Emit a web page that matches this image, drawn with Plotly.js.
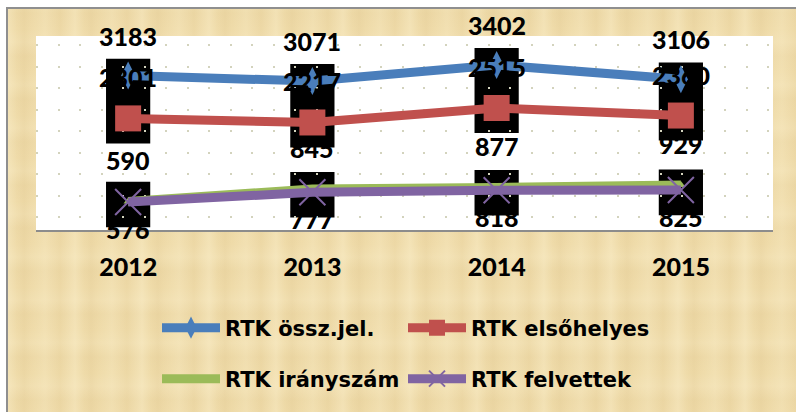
<!DOCTYPE html>
<html>
<head>
<meta charset="utf-8">
<script src="https://cdn.plot.ly/plotly-3.0.1.min.js"></script>
<style>
  html, body { margin: 0; padding: 0; background: #ffffff; width: 796px; height: 412px; overflow: hidden; }
  #frame {
    position: absolute; left: 6px; top: 7px; width: 800px; height: 420px;
    border-left: 2px solid #8f8f8f; border-top: 2px solid #8f8f8f;
    background-color: #efdba9;
    background-image:
      repeating-linear-gradient(90deg, rgba(255,246,215,0.30) 0px, rgba(255,246,215,0.0) 9px, rgba(205,175,115,0.10) 16px, rgba(255,246,215,0.0) 23px, rgba(255,246,215,0.20) 37px, rgba(210,180,120,0.08) 52px, rgba(255,246,215,0.30) 67px),
      repeating-linear-gradient(0deg, rgba(255,248,222,0.14) 0px, rgba(255,248,222,0.0) 13px, rgba(200,170,110,0.06) 29px, rgba(255,248,222,0.14) 43px);
  }
  #chart { position: absolute; left: 0; top: 0; width: 796px; height: 412px; }
</style>
</head>
<body>
<div id="frame"></div>
<div id="chart"></div>
<script>
// ---- data ----
var years = ['2012', '2013', '2014', '2015'];
var osszJel = [3183, 3071, 3402, 3106];      // RTK össz.jel.
var elsohelyes = [2301, 2217, 2515, 2360];   // RTK elsőhelyes
var iranyszam = [590, 845, 877, 929];        // RTK irányszám
var felvettek = [576, 777, 818, 825];        // RTK felvettek
var seriesNames = ['RTK össz.jel.', 'RTK elsőhelyes', 'RTK irányszám', 'RTK felvettek'];

// ---- styles ----
var cBlue = '#4a7ebb', cRed = '#c0504d', cGreen = '#9bbb59', cPurple = '#8064a2';
function labelFont() { return { family: 'Lato, "DejaVu Sans", sans-serif', size: 25, color: '#000000', weight: 900 }; }
function legendFont() { return { family: '"DejaVu Sans", sans-serif', size: 21, color: '#000000', weight: 'bold' }; }

var traces = [
  { x: years, y: osszJel, name: seriesNames[0], type: 'scatter', mode: 'lines+markers', legend: 'legend',
    line: { color: cBlue, width: 9 }, marker: { symbol: 'diamond-tall', size: 20, color: cBlue } },
  { x: years, y: elsohelyes, name: seriesNames[1], type: 'scatter', mode: 'lines+markers', legend: 'legend2',
    line: { color: cRed, width: 9 }, marker: { symbol: 'square', size: 26, color: cRed } },
  { x: years, y: iranyszam, name: seriesNames[2], type: 'scatter', mode: 'lines+markers', legend: 'legend3',
    line: { color: cGreen, width: 9 }, marker: { symbol: 'triangle-up', size: 8, color: cGreen } },
  { x: years, y: felvettek, name: seriesNames[3], type: 'scatter', mode: 'lines+markers', legend: 'legend4',
    line: { color: cPurple, width: 9 }, marker: { symbol: 'x-thin', size: 26, color: cPurple, line: { color: cPurple, width: 2 } } }
];

// value labels
var annotations = [];
function addLabels(vals, shift) {
  vals.forEach(function (v, i) {
    annotations.push({ x: i, y: v, xref: 'x', yref: 'y', text: String(v), showarrow: false,
      yshift: shift, font: labelFont() });
  });
}
addLabels(osszJel, 40);
addLabels(elsohelyes, 41);
addLabels(iranyszam, 41);
addLabels(felvettek, -27);

// black label boxes behind markers (derived from data)
var shapes = [];
years.forEach(function (yr, i) {
  shapes.push({ type: 'rect', xref: 'x', yref: 'y', layer: 'below', x0: i - 0.12, x1: i + 0.12,
    y0: elsohelyes[i] - 515, y1: osszJel[i] + 350, fillcolor: '#000000', line: { width: 0 } });
  shapes.push({ type: 'rect', xref: 'x', yref: 'y', layer: 'below', x0: i - 0.12, x1: i + 0.12,
    y0: felvettek[i] - 520, y1: felvettek[i] + 420, fillcolor: '#000000', line: { width: 0 } });
});

function legendAt(x, y) {
  return { xref: 'container', yref: 'container', x: x / 796, y: 1 - y / 412, xanchor: 'left', yanchor: 'middle',
    orientation: 'h', bgcolor: 'rgba(0,0,0,0)', borderwidth: 0, font: legendFont(), itemwidth: 58 };
}

var layout = {
  width: 796, height: 412,
  margin: { l: 36, r: 23, t: 36, b: 182, pad: 0 },
  paper_bgcolor: 'rgba(0,0,0,0)',
  plot_bgcolor: '#ffffff',
  showlegend: true,
  legend: legendAt(157, 328),
  legend2: legendAt(403, 328),
  legend3: legendAt(157, 379),
  legend4: legendAt(403, 379),
  xaxis: {
    type: 'category', range: [-0.5, 3.5], showgrid: false, zeroline: false,
    showline: true, linecolor: '#8c8c8c', linewidth: 2, ticks: '',
    tickfont: labelFont(), ticklabelstandoff: 14, fixedrange: true
  },
  yaxis: {
    range: [0, 4000], showticklabels: false, zeroline: false, showline: false, ticks: '',
    showgrid: true, tick0: 268, dtick: 443.3, gridcolor: '#d3d3bd', gridwidth: 2, griddash: '2px,19.5px'
  },
  yaxis2: {
    overlaying: 'y', range: [0, 4000], showticklabels: false, zeroline: false, showline: false, ticks: '',
    showgrid: true, tick0: 47, dtick: 443.3, gridcolor: '#d3d3bd', gridwidth: 2, griddash: '0px,9px,2px,10.5px'
  },
  shapes: shapes,
  annotations: annotations
};

Plotly.newPlot('chart', traces, layout, { displayModeBar: false, staticPlot: true }).catch(function (e) {
  var d = document.createElement('pre'); d.textContent = String(e); document.body.appendChild(d);
});
</script>
</body>
</html>
